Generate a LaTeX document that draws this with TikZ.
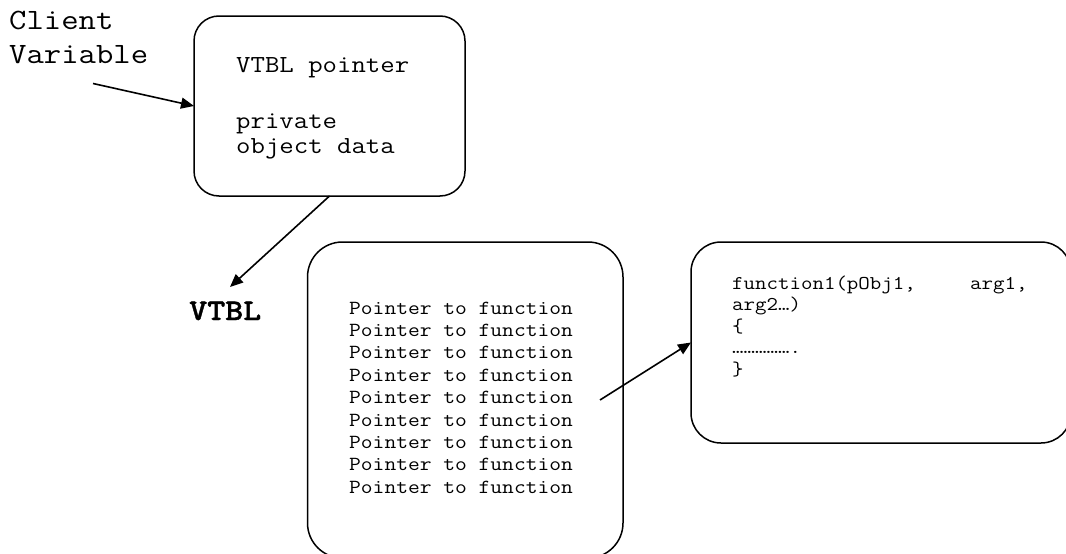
\documentclass[tikz,border=0pt]{standalone}
\usepackage{fontspec}
\newfontfamily\cour[FakeStretch=1.143]{Latin Modern Mono}
\newfontfamily\courbold[FakeStretch=1.143,FakeBold=1.2]{Latin Modern Mono Light}
\usetikzlibrary{arrows.meta}
\begin{document}
\begin{tikzpicture}[x=1pt,y=-1pt,
  panel/.style={draw, line width=1.5pt, inner sep=0pt, outer sep=0pt},
  txt/.style={anchor=base west, inner sep=0pt, font=\cour\fontsize{#1}{#1}\selectfont},
  link/.style={line width=1.6pt, -{Triangle[length=13pt,width=11pt]}}]
% page frame
\fill[white] (0,0) rectangle (1066,554);
\clip (0,0) rectangle (1066,554);

% object, vtable and function body boxes
\node[panel, rounded corners=25pt, minimum width=271pt, minimum height=180pt] (objbox) at (329.5,106) {};
\node[panel, rounded corners=35pt, minimum width=315.5pt, minimum height=316pt] (vtblbox) at (465.25,400) {};
\node[panel, rounded corners=30pt, minimum width=380pt, minimum height=201pt] (funcbox) at (881,342.5) {};

% client variable label
\node[txt=29.5] (client) at (9,29) {Client};
\node[txt=29.5] (variable) at (9,63) {Variable};

% object contents
\node[txt=24.5] (vptr) at (236,72) {VTBL pointer};
\node[txt=24.5] (priv) at (236,128) {private};
\node[txt=24.5] (objdata) at (236,153) {object data};

% vtable label
\node[anchor=base west, inner sep=0pt, font=\courbold\bfseries\fontsize{30}{30}\selectfont] (vtbl) at (189,320) {VTBL};

% vtable entries
\foreach \i in {1,...,9}
  \node[txt=20] (ptr\i) at (349,{314+(\i-1)*22.4}) {Pointer to function};

% function body
\node[txt=19.5] (sig) at (732,289) {function1(pObj1,};
\node[txt=19.5] (sigarg) at (970,289) {arg1,};
\node[txt=19.5] (sig2) at (732,310.5) {arg2…)};
\node[txt=19.5] (lbrace) at (732,332) {\{};
\node[txt=19.5] (body) at (732,353.5) {…………….};
\node[txt=19.5] (rbrace) at (732,375) {\}};

% connectors
\coordinate (cvtail) at (93,83.5);
\coordinate (vtbltip) at (230,287);
\coordinate (ptrtail) at (600,400);
\draw[link] (cvtail) -- (objbox.west);
\draw[link] (objbox.south) -- (vtbltip);
\draw[link] (ptrtail) -- (funcbox.west);
\end{tikzpicture}
\end{document}
